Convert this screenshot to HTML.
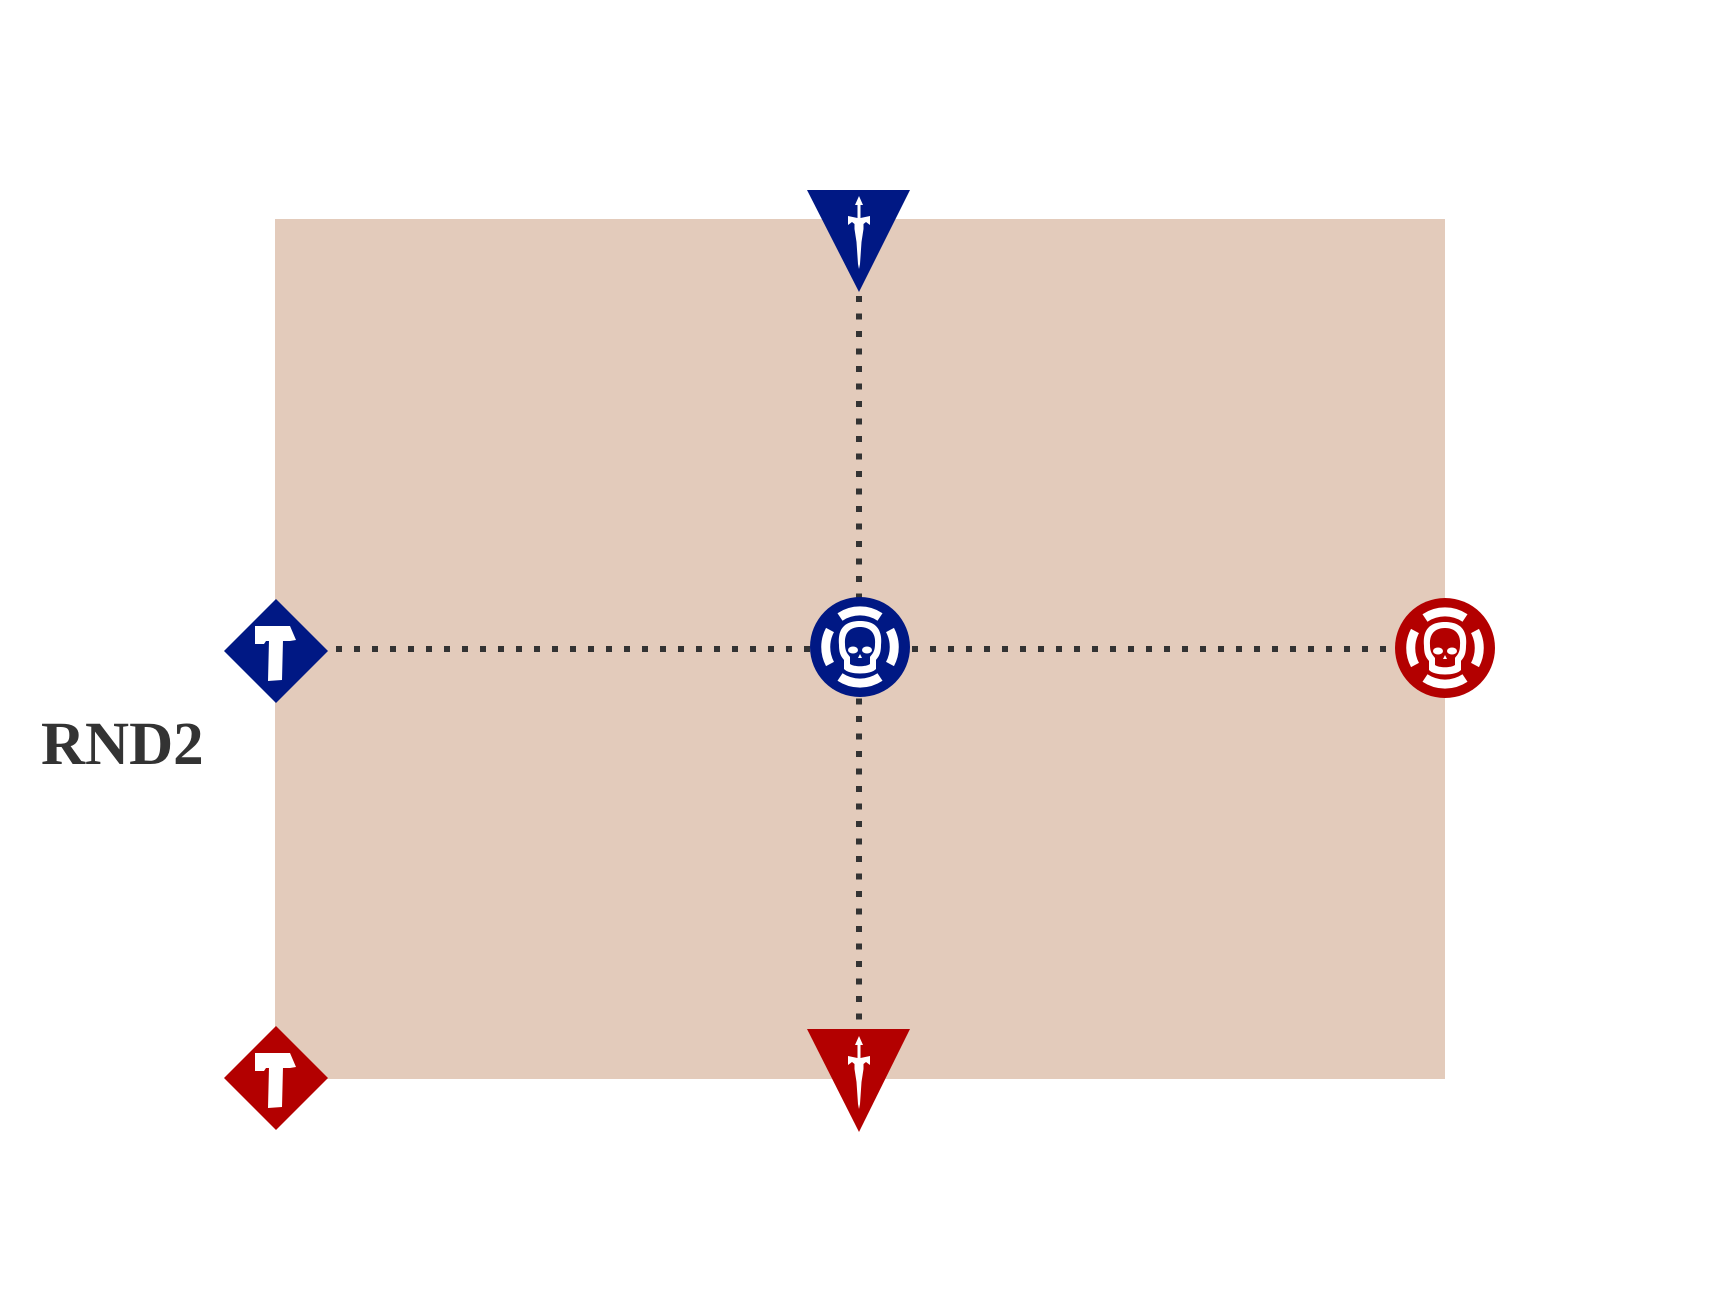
<!DOCTYPE html>
<html><head><style>
html,body{margin:0;padding:0;background:#fff;}
body{width:1720px;height:1300px;position:relative;overflow:hidden;}
</style></head><body>
<svg width="1720" height="1300" viewBox="0 0 1720 1300" xmlns="http://www.w3.org/2000/svg" style="position:absolute;left:0;top:0">
<defs>
<g id="skull">
  <g fill="none" stroke="#fff" stroke-width="9">
    <path d="M -20 -30 A 36 36 0 0 1 20 -30"/>
    <path d="M -20 30 A 36 36 0 0 0 20 30"/>
    <path d="M -30 -17 A 36 36 0 0 0 -30 17"/>
    <path d="M 30 -17 A 36 36 0 0 1 30 17"/>
  </g>
  <path d="M -21 -2 C -23 -22 -11 -26 0 -26 C 11 -26 23 -22 21 -2 C 21 9 17 11 16 13 L 16 22 C 11 28 -11 28 -16 22 L -16 13 C -17 11 -21 9 -21 -2 Z" fill="#fff"/>
  <path d="M -15 -3 C -16 -16 -8 -20 0 -20 C 8 -20 16 -16 15 -3 C 15 6 11 8 10 10 L 10 17 C 6 20 -6 20 -10 17 L -10 10 C -11 8 -15 6 -15 -3 Z" fill="currentColor"/>
  <ellipse cx="-7" cy="3" rx="5" ry="3.5" fill="#fff"/>
  <ellipse cx="7" cy="3" rx="5" ry="3.5" fill="#fff"/>
  <path d="M 0 7 L -2 11 L 2 11 Z" fill="#fff"/>
</g>
<g id="axe" fill="#fff">
  <path d="M -21 -27 L 14 -27 L 20 -13 L 14 -12 L -10 -12 L -12 -9 L -21 -9 Z"/>
  <path d="M -7 -13 C -7 -18 7 -18 7 -13 L 6 27 L -8 28 Z"/>
</g>
<g id="dagger" fill="#fff">
  <path d="M 0 -44 L 4 -35 L 1.5 -35 L 1.5 -22 L 11 -24 L 11 -15 L 7 -18 L 4.5 -16 L 4.5 -11 L 2.5 2 L 1 24 L 0 29 L -1 24 L -2.5 2 L -4.5 -11 L -4.5 -16 L -7 -18 L -11 -15 L -11 -24 L -1.5 -22 L -1.5 -35 L -4 -35 Z"/>
</g>
</defs>
<rect x="275" y="219" width="1170" height="860" fill="#e3cbbb"/>
<line x1="336" y1="649" x2="1395" y2="649" stroke="#333" stroke-width="6" stroke-dasharray="6 12"/>
<line x1="859" y1="296" x2="859" y2="1029" stroke="#333" stroke-width="6" stroke-dasharray="6 11.5"/>
<polygon points="807,190 910,190 859,292" fill="#001884"/>
<use href="#dagger" transform="translate(859,240)"/>
<polygon points="807,1029 910,1029 859,1132" fill="#b30000"/>
<use href="#dagger" transform="translate(859,1080)"/>
<polygon points="276,599 328,651 276,703 224,651" fill="#001884"/>
<use href="#axe" transform="translate(276,653)"/>
<polygon points="276,1026 328,1078 276,1130 224,1078" fill="#b30000"/>
<use href="#axe" transform="translate(276,1080)"/>
<circle cx="860" cy="647" r="50" fill="#001884"/>
<use href="#skull" transform="translate(860,647)" style="color:#001884"/>
<circle cx="1445" cy="648" r="50" fill="#b30000"/>
<use href="#skull" transform="translate(1445,648)" style="color:#b30000"/>
<text x="41" y="764" font-family="Liberation Serif, serif" font-weight="bold" font-size="61" fill="#333">RND2</text>
</svg>
</body></html>
